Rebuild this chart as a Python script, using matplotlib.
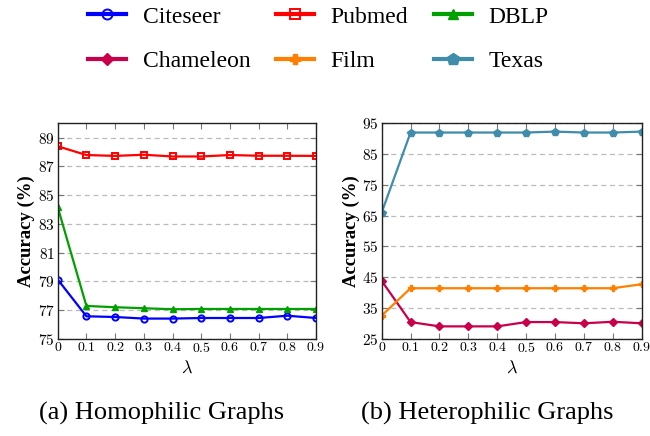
import matplotlib
matplotlib.use("Agg")
import matplotlib.pyplot as plt
from matplotlib.lines import Line2D

lam = [0, 0.1, 0.2, 0.3, 0.4, 0.5, 0.6, 0.7, 0.8, 0.9]
x_ticklabels = ["0", "0.1", "0.2", "0.3", "0.4", "0.5", "0.6", "0.7", "0.8", "0.9"]

citeseer = [79.12, 76.56, 76.51, 76.40, 76.40, 76.44, 76.44, 76.44, 76.60, 76.44]
pubmed = [88.40, 87.79, 87.73, 87.81, 87.69, 87.69, 87.79, 87.74, 87.74, 87.73]
dblp = [84.16, 77.28, 77.19, 77.12, 77.05, 77.07, 77.07, 77.07, 77.07, 77.07]

chameleon = [43.8, 30.4, 29.0, 29.0, 29.0, 30.4, 30.4, 30.0, 30.5, 30.0]
film = [32.5, 41.4, 41.4, 41.4, 41.4, 41.4, 41.4, 41.4, 41.4, 42.7]
texas = [66.0, 92.0, 92.0, 92.0, 92.0, 92.0, 92.3, 92.0, 92.0, 92.3]

homo_yticks = [75, 77, 79, 81, 83, 85, 87, 89]
hetero_yticks = [25, 35, 45, 55, 65, 75, 85, 95]

plt.rcParams["font.family"] = ["Liberation Serif", "DejaVu Serif"]
plt.rcParams["mathtext.fontset"] = "cm"

fig = plt.figure(figsize=(6.5, 4.36), dpi=100)
axL = fig.add_axes([0.0888, 0.2232, 0.3974, 0.494])
axR = fig.add_axes([0.5872, 0.2232, 0.4, 0.494])

lw = 1.6
ms = 4.5
styles = {
    "Citeseer": dict(color="#0000ff", marker="o", mfc="none", mew=1.4),
    "Pubmed": dict(color="#ff0000", marker="s", mfc="none", mew=1.4),
    "DBLP": dict(color="#00a000", marker="^", mfc="#00a000"),
    "Chameleon": dict(color="#c8004b", marker="D", mfc="#c8004b", ms_scale=0.85),
    "Film": dict(color="#ff8000", marker="P", mfc="#ff8000"),
    "Texas": dict(color="#3f8cab", marker="p", mfc="#3f8cab", ms_scale=1.25),
}

def plot(ax, y, name):
    st = dict(styles[name])
    scale = st.pop("ms_scale", 1.0)
    ax.plot(lam, y, lw=lw, markersize=ms * scale, label=name, **st)

plot(axL, citeseer, "Citeseer")
plot(axL, pubmed, "Pubmed")
plot(axL, dblp, "DBLP")
plot(axR, chameleon, "Chameleon")
plot(axR, film, "Film")
plot(axR, texas, "Texas")

for ax, yt, ylim in [(axL, homo_yticks, (75, 90)), (axR, hetero_yticks, (25, 95))]:
    ax.set_xlim(0, 0.9)
    ax.set_ylim(*ylim)
    ax.set_xticks(lam)
    ax.set_xticklabels(["$" + s + "$" for s in x_ticklabels], fontsize=10)
    ax.set_yticks(yt)
    ax.set_yticklabels(["$%d$" % v for v in yt], fontsize=11)
    ax.grid(axis="y", linestyle=(0, (4, 3)), color="#bbbbbb", lw=0.9)
    ax.set_axisbelow(True)
    ax.tick_params(direction="in", top=True, right=True, length=4, width=0.8,
                   color="#777777", pad=2)
    for sp in ax.spines.values():
        sp.set_linewidth(1.0)
        sp.set_color("#222222")
    ax.set_xlabel(r"$\lambda$", fontsize=13, labelpad=3)
    ax.set_ylabel("Accuracy (%)", fontsize=13.5, fontweight="bold", labelpad=2)

# legend filled row by row: matplotlib fills columns first, so interleave
legend_order = ["Citeseer", "Chameleon", "Pubmed", "Film", "DBLP", "Texas"]
handles = []
for name in legend_order:
    st = dict(styles[name])
    scale = st.pop("ms_scale", 1.0)
    handles.append(Line2D([], [], lw=3, markersize=ms * scale * 1.6, **st))

fig.legend(handles, legend_order, loc="upper center", bbox_to_anchor=(0.49, 1.035),
           ncol=3, frameon=False, fontsize=17, handlelength=1.6,
           columnspacing=1.1, handletextpad=0.7, labelspacing=0.98)

fig.text(0.248, 0.052, "(a) Homophilic Graphs", ha="center", va="center", fontsize=19)
fig.text(0.75, 0.052, "(b) Heterophilic Graphs", ha="center", va="center", fontsize=19)

fig.savefig("out.png", dpi=100)
